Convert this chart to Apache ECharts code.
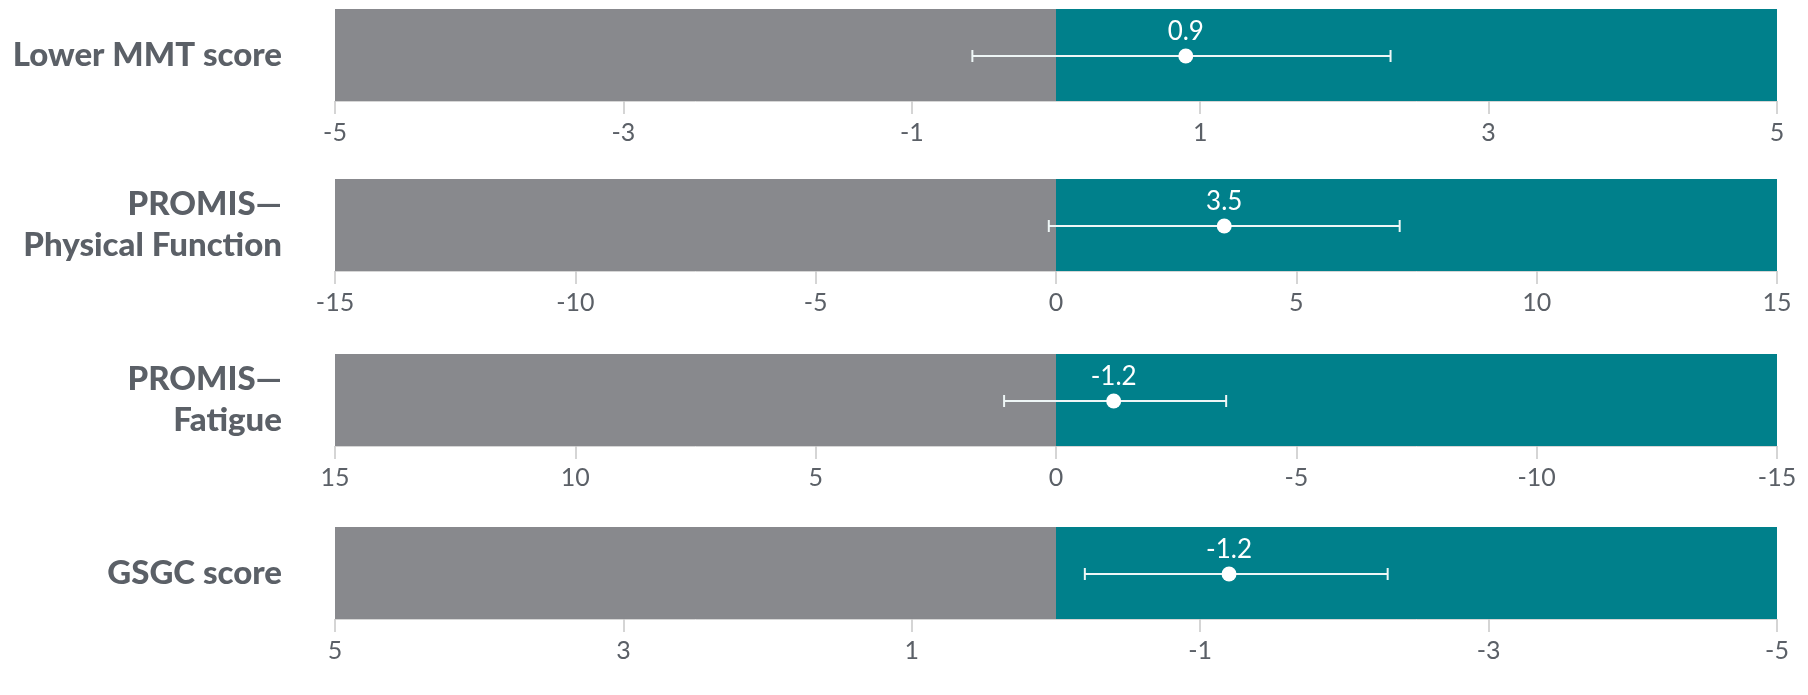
<!DOCTYPE html>
<html>
<head>
<meta charset="utf-8">
<title>Outcome differences</title>
<script src="https://cdn.jsdelivr.net/npm/echarts@6/dist/echarts.min.js"></script>
<style>
    html, body { margin: 0; padding: 0; background: #fff; }
    #chart { width: 1808px; height: 695px; }
</style>
</head>
<body>
<div id="chart"></div>
<script>
// 数据
const outcomes = ['Lower MMT score', 'PROMIS—\nPhysical Function', 'PROMIS—\nFatigue', 'GSGC score'];
const axisRange = [5, 15, 15, 5];
const axisReversed = [false, false, true, true];
const tickValues = [
    [-5, -3, -1, 1, 3, 5],
    [-15, -10, -5, 0, 5, 10, 15],
    [-15, -10, -5, 0, 5, 10, 15],
    [-5, -3, -1, 1, 3, 5]
];
const estimates = [0.9, 3.5, -1.2, -1.2];
const ciLower = [-0.58, -0.15, 1.08, -0.2];
const ciUpper = [2.32, 7.15, -3.54, -2.3];

const GRAY = '#88898d';
const TEAL = '#00808b';
const TEXT = '#5b6067';
const FONT = 'Lato';

const gridTops = [9, 179, 354, 527];
const BAR_H = 92;

// 误差线
function renderErrorBar(params, api) {
    const lo = api.coord([api.value(0), api.value(2)]);
    const hi = api.coord([api.value(1), api.value(2)]);
    const y = lo[1] + 1;
    const cap = 6;
    const style = { stroke: '#eef6f6', lineWidth: 2 };
    return {
        type: 'group',
        children: [
            { type: 'line', shape: { x1: lo[0], y1: y, x2: hi[0], y2: y }, style: style },
            { type: 'line', shape: { x1: lo[0], y1: y - cap, x2: lo[0], y2: y + cap }, style: style },
            { type: 'line', shape: { x1: hi[0], y1: y - cap, x2: hi[0], y2: y + cap }, style: style }
        ]
    };
}

const grids = [], xAxes = [], yAxes = [], series = [];

outcomes.forEach((name, i) => {
    const r = axisRange[i];
    const rev = axisReversed[i];
    grids.push({ left: 335, right: 31, top: gridTops[i], height: BAR_H });
    xAxes.push({
        type: 'value',
        gridIndex: i,
        min: -r,
        max: r,
        inverse: rev,
        splitLine: { show: false },
        axisLine: { show: true, lineStyle: { color: '#d6d6d6', width: 1 } },
        axisTick: {
            show: true,
            length: 13,
            customValues: tickValues[i],
            lineStyle: { color: '#c8c8c8', width: 1.5 }
        },
        axisLabel: {
            customValues: tickValues[i],
            color: TEXT,
            fontFamily: FONT,
            fontSize: 25,
            margin: 19
        }
    });
    yAxes.push({
        type: 'category',
        gridIndex: i,
        data: [name],
        axisLine: { show: false },
        axisTick: { show: false },
        axisLabel: {
            color: TEXT,
            fontFamily: FONT,
            fontWeight: 900,
            fontSize: 33,
            lineHeight: 41,
            align: 'right',
            margin: 53,
            padding: i === 2 ? [41, 0, 0, 0] : 0
        }
    });
    // 灰色/青色底条
    series.push({
        type: 'bar',
        xAxisIndex: i,
        yAxisIndex: i,
        barWidth: BAR_H,
        barGap: '-100%',
        silent: true,
        itemStyle: { color: GRAY },
        data: [rev ? r : -r]
    });
    series.push({
        type: 'bar',
        xAxisIndex: i,
        yAxisIndex: i,
        barWidth: BAR_H,
        barGap: '-100%',
        silent: true,
        itemStyle: { color: TEAL },
        data: [rev ? -r : r]
    });
    series.push({
        type: 'custom',
        xAxisIndex: i,
        yAxisIndex: i,
        renderItem: renderErrorBar,
        encode: { x: [0, 1], y: 2 },
        data: [[ciLower[i], ciUpper[i], 0]],
        z: 5
    });
    series.push({
        type: 'scatter',
        xAxisIndex: i,
        yAxisIndex: i,
        symbolSize: 15,
        symbolOffset: [0, 1],
        itemStyle: { color: '#ffffff', opacity: 1 },
        label: {
            show: true,
            position: 'top',
            distance: 4,
            color: '#ffffff',
            fontFamily: FONT,
            fontSize: 26,
            formatter: (p) => String(estimates[i])
        },
        data: [[estimates[i], 0]],
        z: 6
    });
});

document.addEventListener('DOMContentLoaded', () => {
    const chart = echarts.init(document.getElementById('chart'));
    chart.setOption({
        animation: false,
        grid: grids,
        xAxis: xAxes,
        yAxis: yAxes,
        series: series
    });
});
</script>
</body>
</html>
